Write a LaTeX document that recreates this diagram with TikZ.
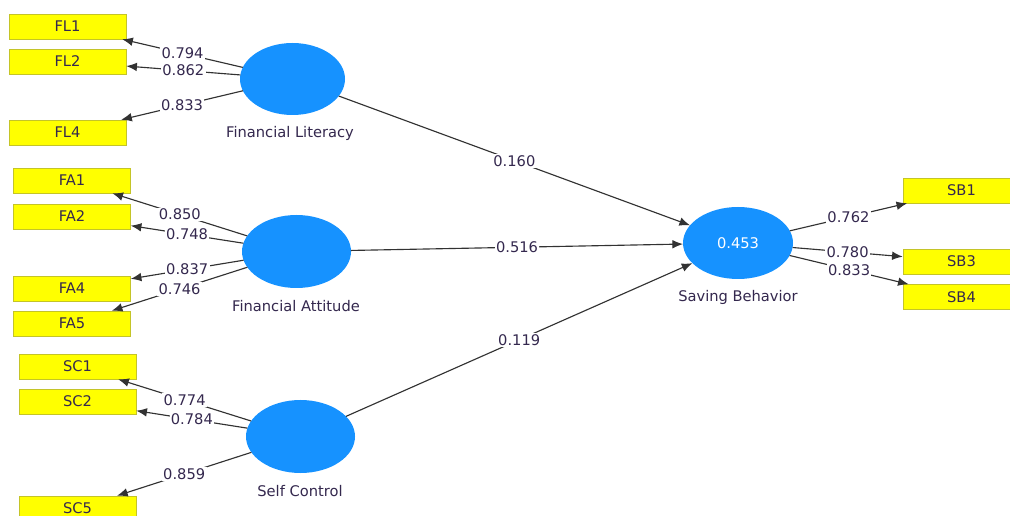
\documentclass[tikz,border=0pt]{standalone}
\usepackage{fontspec}
\setmainfont{DejaVu Sans}
\usetikzlibrary{arrows.meta,shapes.geometric}

\definecolor{itemfill}{RGB}{255,255,0}
\definecolor{itemline}{RGB}{196,196,40}
\definecolor{lvfill}{RGB}{22,146,255}
\definecolor{inktext}{RGB}{52,40,78}
\definecolor{pathline}{RGB}{50,50,50}

\tikzset{
  indicator/.style={draw=itemline, fill=itemfill, minimum width=87.75pt,
    minimum height=18.75pt, inner sep=0pt, text=inktext},
  latent/.style={ellipse, fill=lvfill, minimum width=81.75pt,
    minimum height=54.75pt, inner sep=0pt, outer sep=0pt, text=white},
  lvname/.style={text=inktext, inner sep=0pt},
  coef/.style={fill=white, inner sep=1pt, text=inktext},
  loading/.style={draw=pathline, line width=0.85pt}
}

\begin{document}
\begin{tikzpicture}[x=0.75pt, y=-0.75pt, >={Latex[length=8pt,width=6.5pt]},
    font=\fontsize{11}{13}\selectfont]
            \clip (0,0) rectangle (1010,516);
            \fill[white] (0,0) rectangle (1010,516);

            % latent variables
            \node[latent, minimum width=78.75pt, minimum height=54pt] (fl) at (292.5,79) {};
            \node[latent] (fa) at (296.5,251.5) {};
            \node[latent] (sc) at (300.5,436.5) {};
            \node[latent, minimum width=82.5pt, minimum height=54pt] (sb) at (738,243) {0.453};

            \node[lvname] (flname) at (290,133) {Financial Literacy};
            \node[lvname] (faname) at (296,306) {Financial Attitude};
            \node[lvname] (scname) at (300,491) {Self Control};
            \node[lvname] (sbname) at (738,297) {Saving Behavior};

            % indicators
            \node[indicator] (fl1) at (67.5,26.5) {FL1};
            \node[indicator] (fl2) at (67.5,61.5) {FL2};
            \node[indicator] (fl4) at (67.5,132.5) {FL4};

            \node[indicator] (fa1) at (72,180.5) {FA1};
            \node[indicator] (fa2) at (72,216.5) {FA2};
            \node[indicator] (fa4) at (72,288.5) {FA4};
            \node[indicator] (fa5) at (72,323.5) {FA5};

            \node[indicator] (sc1) at (77.5,366.5) {SC1};
            \node[indicator] (sc2) at (77.5,401.5) {SC2};
            \node[indicator] (sc5) at (77.5,508.5) {SC5};

            \node[indicator] (sb1) at (961.5,190.5) {SB1};
            \node[indicator] (sb3) at (961.5,261.5) {SB3};
            \node[indicator] (sb4) at (961.5,297) {SB4};

            % outer loadings
            \draw[loading, ->] (fl) -- (fl1) node[coef, midway] {0.794};
            \draw[loading, ->] (fl) -- (fl2) node[coef, midway] {0.862};
            \draw[loading, ->] (fl) -- (fl4) node[coef, midway] {0.833};

            \draw[loading, ->] (fa) -- (fa1) node[coef, midway] {0.850};
            \draw[loading, ->] (fa) -- (fa2) node[coef, midway] {0.748};
            \draw[loading, ->] (fa) -- (fa4) node[coef, midway] {0.837};
            \draw[loading, ->] (fa) -- (fa5) node[coef, midway] {0.746};

            \draw[loading, ->] (sc) -- (sc1) node[coef, midway] {0.774};
            \draw[loading, ->] (sc) -- (sc2) node[coef, midway] {0.784};
            \draw[loading, ->] (sc) -- (sc5) node[coef, midway] {0.859};

            \draw[loading, ->] (sb) -- (sb1) node[coef, midway] {0.762};
            \draw[loading, ->] (sb) -- (sb3) node[coef, midway] {0.780};
            \draw[loading, ->] (sb) -- (sb4) node[coef, midway] {0.833};

            % path coefficients
            \draw[loading, ->] (fl) -- (sb) node[coef, midway] {0.160};
            \draw[loading, ->] (fa) -- (sb) node[coef, midway] {0.516};
            \draw[loading, ->] (sc) -- (sb) node[coef, midway] {0.119};
        \end{tikzpicture}
\end{document}
